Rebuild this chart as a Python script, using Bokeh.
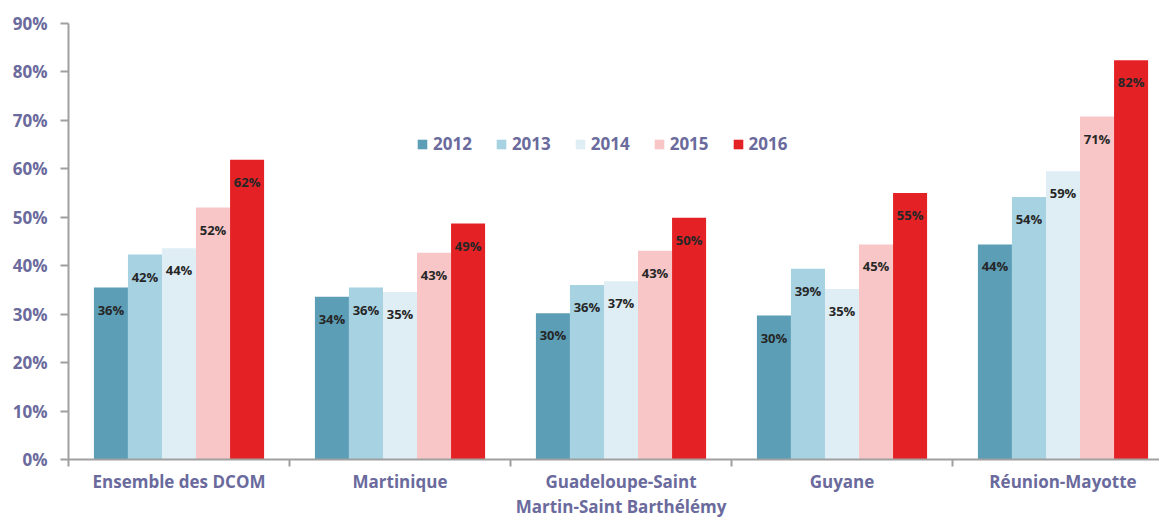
from bokeh.plotting import figure
from bokeh.models import (ColumnDataSource, Range1d, FixedTicker, PrintfTickFormatter,
                          Legend, LegendItem)
from bokeh.core.properties import value
from bokeh.embed import file_html
from bokeh.resources import INLINE

categories = ["Ensemble des DCOM", "Martinique", "Guadeloupe-Saint\nMartin-Saint Barthélémy",
              "Guyane", "Réunion-Mayotte"]
years = ["2012", "2013", "2014", "2015", "2016"]
v2012 = [35.5, 33.6, 30.2, 29.7, 44.4]
v2013 = [42.3, 35.5, 36.0, 39.4, 54.2]
v2014 = [43.6, 34.6, 36.8, 35.2, 59.5]
v2015 = [52.0, 42.7, 43.1, 44.4, 70.8]
v2016 = [61.9, 48.7, 49.9, 55.0, 82.4]
labels2012 = ["36%", "34%", "30%", "30%", "44%"]
labels2013 = ["42%", "36%", "36%", "39%", "54%"]
labels2014 = ["44%", "35%", "37%", "35%", "59%"]
labels2015 = ["52%", "43%", "43%", "45%", "71%"]
labels2016 = ["62%", "49%", "50%", "55%", "82%"]
colors = ["#5B9EB6", "#A6D2E2", "#DFEEF4", "#F8C6C7", "#E42226"]

series = [v2012, v2013, v2014, v2015, v2016]
labels = [labels2012, labels2013, labels2014, labels2015, labels2016]

AXIS_COLOR = "#6A6A9D"
FONT = "Open Sans"

W, H = 1159, 521
p = figure(width=W, height=H, output_backend="svg", toolbar_location=None,
           x_range=Range1d(0, 1091 / 221.0), y_range=Range1d(0, 90),
           min_border_left=68, min_border_right=0, min_border_top=23, min_border_bottom=61)
p.outline_line_color = None
p.xgrid.visible = False
p.ygrid.visible = False
p.background_fill_color = "white"

bw = 0.154
items = []
for k, (vals, labs, col, yr) in enumerate(zip(series, labels, colors, years)):
    xs = [i + 0.5 + (k - 2) * bw for i in range(len(categories))]
    src = ColumnDataSource(dict(x=xs, top=vals, lab=labs))
    r = p.vbar(x="x", top="top", width=bw, bottom=0, source=src,
               fill_color=col, line_color=None)
    items.append(LegendItem(label=yr, renderers=[r]))
    p.text(x="x", y="top", text="lab", source=src, text_align="center",
           text_baseline="middle", y_offset=22, text_font=value(FONT),
           text_font_size="13px", text_font_style="bold", text_color="#262626")

legend = Legend(items=items, orientation="horizontal", location=(348, 304),
                padding=0, margin=0, spacing=23, glyph_width=12, glyph_height=12,
                label_standoff=5, label_height=20, border_line_color=None,
                background_fill_alpha=0, label_text_font=FONT,
                label_text_font_size="17px", label_text_font_style="bold",
                label_text_color=AXIS_COLOR)
p.add_layout(legend, "center")

# Y axis
ya = p.yaxis[0]
ya.ticker = FixedTicker(ticks=list(range(0, 91, 10)), minor_ticks=[])
ya.formatter = PrintfTickFormatter(format="%d%%")
ya.axis_line_color = "#A0A0A0"
ya.axis_line_width = 2
ya.major_tick_line_color = "#A0A0A0"
ya.major_tick_line_width = 2
ya.major_tick_out = 8
ya.major_tick_in = 0
ya.major_label_standoff = 13
ya.major_label_text_font = FONT
ya.major_label_text_font_size = "17px"
ya.major_label_text_font_style = "bold"
ya.major_label_text_color = AXIS_COLOR

# X axis
xa = p.xaxis[0]
centers = [i + 0.5 for i in range(len(categories))]
xa.ticker = FixedTicker(ticks=centers, minor_ticks=list(range(0, len(categories) + 1)))
xa.major_label_overrides = {c: lab for c, lab in zip(centers, categories)}
xa.axis_line_color = "#A0A0A0"
xa.axis_line_width = 2
xa.major_tick_line_color = None
xa.major_tick_out = 0
xa.major_tick_in = 0
xa.minor_tick_line_color = "#A0A0A0"
xa.minor_tick_line_width = 2
xa.minor_tick_out = 7
xa.minor_tick_in = 0
xa.major_label_standoff = 3
xa.major_label_text_font = FONT
xa.major_label_text_font_size = "17px"
xa.major_label_text_font_style = "bold"
xa.major_label_text_color = AXIS_COLOR
xa.major_label_text_line_height = 1.12

open("out.html", "w").write(file_html(p, INLINE))
